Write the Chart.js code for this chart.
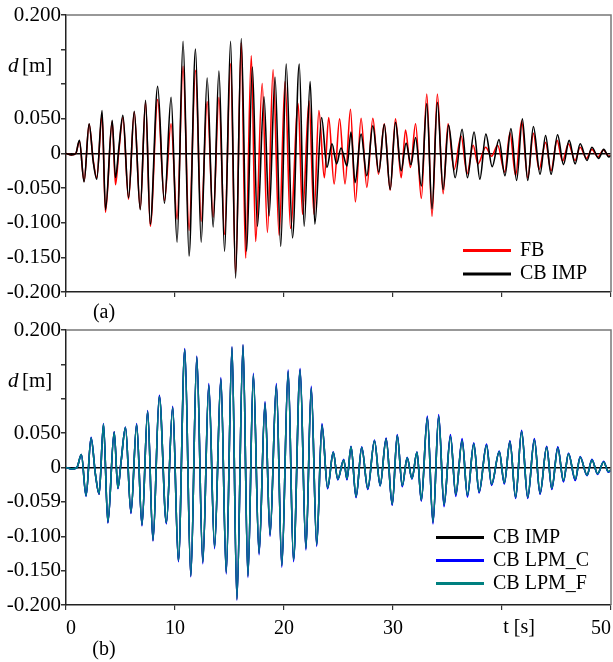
<!DOCTYPE html>
<html>
<head>
<meta charset="utf-8">
<script src="https://cdn.jsdelivr.net/npm/chart.js@4.4.0/dist/chart.umd.min.js"></script>
<style>
  body { margin: 0; background: #fff; }
  #wrap { position: relative; width: 613px; height: 662px; }
  canvas { position: absolute; left: 0; }
  #chartA { top: 0; }
  #chartB { top: 315px; }
</style>
</head>
<body>
<div id="wrap">
  <canvas id="chartA" width="613" height="325"></canvas>
  <canvas id="chartB" width="613" height="347"></canvas>
</div>
<script>
// ---- panel (a): peaks / troughs, t [s] and d [m] ----
const tFb = [
  0, 0.5, 0.9, 1.23, 1.66, 2.12, 2.5, 2.82, 3.31, 3.62,
  4.24, 4.54, 4.85, 5.22, 5.74, 6.26, 6.81, 7.3, 7.73, 8.41,
  9.03, 9.64, 10.19, 10.74, 11.29, 11.88, 12.4, 12.95, 13.5, 14.03,
  14.55, 15.1, 15.56, 16.08, 16.48, 17.0, 17.4, 18.0, 18.48, 19.0,
  19.55, 20.1, 20.6, 21.3, 21.7, 22.3, 22.75, 23.2, 23.7, 24.1,
  24.6, 25.1, 25.6, 26.1, 26.55, 27.07, 27.6, 28.15, 28.67, 29.2,
  29.74, 30.23, 30.75, 31.15, 31.6, 32.07, 32.6, 33.1, 33.58, 34.07,
  34.6, 35.05, 35.6, 36.25, 36.8, 37.35, 37.8, 38.5, 39.04, 39.6,
  40.25, 40.73, 41.25, 41.8, 42.36, 42.88, 43.4, 44.0, 44.5, 45.05,
  45.55, 46.1, 46.7, 47.17, 47.75, 48.25, 48.8, 49.3, 49.8, 50
];
const dFb = [
  0, -0.002, 0, 0.018, -0.040, 0.042, -0.010, -0.035, 0.055, -0.085,
  0.046, -0.045, 0.004, 0.052, -0.066, 0.060, -0.080, 0.074, -0.105, 0.078,
  -0.068, 0.043, -0.095, 0.126, -0.111, 0.120, -0.098, 0.075, -0.092, 0.081,
  -0.117, 0.130, -0.173, 0.160, -0.151, 0.141, -0.127, 0.101, -0.114, 0.121,
  -0.118, 0.104, -0.108, 0.072, -0.088, 0.076, -0.088, 0.062, -0.035, 0.052,
  -0.044, 0.050, -0.044, 0.064, -0.070, 0.051, -0.049, 0.051, -0.030, 0.043,
  -0.053, 0.050, -0.035, 0.034, -0.020, 0.043, -0.065, 0.086, -0.091, 0.086,
  -0.058, 0.043, -0.023, 0.025, -0.029, 0.012, -0.015, 0.009, -0.004, 0.012,
  -0.027, 0.030, -0.032, 0.047, -0.035, 0.029, -0.023, 0.016, -0.025, 0.019,
  -0.011, 0.014, -0.010, 0.009, -0.007, 0.006, -0.005, 0.005, -0.004, -0.003
];
const tImpA = [
  0, 0.5, 0.9, 1.23, 1.66, 2.12, 2.5, 2.82, 3.31, 3.62,
  4.24, 4.54, 4.85, 5.22, 5.74, 6.26, 6.81, 7.3, 7.73, 8.41,
  9.03, 9.64, 10.19, 10.74, 11.29, 11.88, 12.4, 12.95, 13.5, 14.03,
  14.55, 15.1, 15.56, 16.08, 16.57, 17.1, 17.56, 18.17, 18.63, 19.18,
  19.7, 20.2, 20.78, 21.4, 21.85, 22.4, 22.83, 23.45, 23.94, 24.4,
  24.83, 25.23, 25.78, 26.15, 26.52, 27.07, 27.6, 28.15, 28.7, 29.2,
  29.74, 30.23, 30.75, 31.2, 31.65, 32.07, 32.6, 33.1, 33.58, 34.07,
  34.6, 35.1, 35.7, 36.34, 36.83, 37.44, 37.97, 38.52, 39.1, 39.72,
  40.27, 40.82, 41.34, 41.87, 42.36, 42.88, 43.49, 44.0, 44.5, 45.1,
  45.64, 46.16, 46.71, 47.17, 47.8, 48.25, 48.86, 49.33, 49.8, 50
];
const dImpA = [
  0, -0.002, 0, 0.019, -0.041, 0.043, -0.012, -0.037, 0.062, -0.081,
  0.048, -0.035, 0.008, 0.055, -0.064, 0.061, -0.081, 0.077, -0.102, 0.097,
  -0.072, 0.081, -0.128, 0.162, -0.148, 0.151, -0.128, 0.109, -0.106, 0.119,
  -0.141, 0.162, -0.180, 0.166, -0.141, 0.125, -0.105, 0.082, -0.090, 0.110,
  -0.134, 0.129, -0.122, 0.129, -0.105, 0.104, -0.102, 0.052, -0.020, 0.014,
  -0.015, 0.008, -0.018, 0.031, -0.042, 0.028, -0.032, 0.040, -0.027, 0.042,
  -0.052, 0.045, -0.025, 0.015, -0.016, 0.023, -0.047, 0.072, -0.080, 0.074,
  -0.052, 0.041, -0.035, 0.035, -0.035, 0.031, -0.037, 0.028, -0.019, 0.020,
  -0.032, 0.036, -0.039, 0.050, -0.039, 0.039, -0.030, 0.026, -0.030, 0.027,
  -0.016, 0.019, -0.015, 0.014, -0.010, 0.009, -0.007, 0.006, -0.005, -0.003
];

// ---- panel (b) ----
const tB = [
  0, 0.5, 1.0, 1.41, 1.84, 2.3, 2.7, 3.04, 3.44, 3.84,
  4.42, 4.76, 5.05, 5.46, 5.96, 6.48, 6.97, 7.49, 7.98, 8.56,
  9.21, 9.79, 10.31, 10.9, 11.45, 12.0, 12.55, 13.1, 13.63, 14.21,
  14.7, 15.23, 15.68, 16.24, 16.69, 17.19, 17.71, 18.26, 18.72, 19.3,
  19.8, 20.38, 20.87, 21.48, 22.01, 22.5, 23.0, 23.48, 24.0, 24.52,
  24.93, 25.48, 25.78, 26.15, 26.61, 27.13, 27.69, 28.3, 28.82, 29.37,
  29.93, 30.39, 30.85, 31.3, 31.74, 32.2, 32.6, 33.15, 33.67, 34.19,
  34.68, 35.27, 35.76, 36.34, 36.83, 37.41, 37.9, 38.58, 39.04, 39.75,
  40.21, 40.73, 41.25, 41.8, 42.36, 42.97, 43.49, 44.1, 44.57, 45.12,
  45.64, 46.1, 46.72, 47.17, 47.8, 48.25, 48.77, 49.33, 49.75, 50
];
const impB = [
  0, -0.002, 0, 0.019, -0.041, 0.043, -0.010, -0.039, 0.063, -0.080,
  0.052, -0.030, 0.008, 0.058, -0.066, 0.063, -0.084, 0.082, -0.106, 0.104,
  -0.081, 0.088, -0.136, 0.172, -0.158, 0.161, -0.138, 0.120, -0.116, 0.129,
  -0.153, 0.175, -0.192, 0.178, -0.158, 0.135, -0.125, 0.094, -0.098, 0.120,
  -0.143, 0.140, -0.135, 0.142, -0.118, 0.116, -0.113, 0.062, -0.030, 0.022,
  -0.017, 0.011, -0.017, 0.030, -0.043, 0.029, -0.031, 0.039, -0.026, 0.042,
  -0.054, 0.047, -0.027, 0.014, -0.016, 0.022, -0.048, 0.073, -0.080, 0.075,
  -0.055, 0.046, -0.040, 0.040, -0.041, 0.035, -0.036, 0.033, -0.025, 0.023,
  -0.023, 0.038, -0.044, 0.053, -0.044, 0.041, -0.038, 0.030, -0.031, 0.029,
  -0.020, 0.020, -0.018, 0.015, -0.011, 0.011, -0.009, 0.008, -0.006, -0.004
];
const lpmC = [
  0, -0.002, 0, 0.019, -0.042, 0.044, -0.010, -0.039, 0.064, -0.081,
  0.052, -0.031, 0.008, 0.059, -0.067, 0.064, -0.085, 0.083, -0.107, 0.105,
  -0.082, 0.089, -0.137, 0.173, -0.159, 0.162, -0.140, 0.122, -0.118, 0.131,
  -0.155, 0.176, -0.193, 0.179, -0.160, 0.137, -0.127, 0.096, -0.100, 0.122,
  -0.145, 0.142, -0.137, 0.144, -0.120, 0.118, -0.115, 0.064, -0.031, 0.023,
  -0.018, 0.012, -0.018, 0.031, -0.044, 0.030, -0.032, 0.040, -0.027, 0.043,
  -0.055, 0.048, -0.028, 0.015, -0.017, 0.023, -0.049, 0.075, -0.082, 0.077,
  -0.057, 0.048, -0.042, 0.042, -0.043, 0.036, -0.037, 0.034, -0.026, 0.024,
  -0.024, 0.039, -0.045, 0.054, -0.045, 0.042, -0.039, 0.031, -0.032, 0.030,
  -0.021, 0.021, -0.019, 0.016, -0.012, 0.012, -0.010, 0.009, -0.007, -0.004
];
const lpmF = [
  0, -0.002, 0, 0.019, -0.041, 0.043, -0.010, -0.038, 0.063, -0.079,
  0.051, -0.030, 0.008, 0.058, -0.065, 0.062, -0.083, 0.081, -0.105, 0.103,
  -0.080, 0.087, -0.135, 0.171, -0.157, 0.160, -0.137, 0.119, -0.115, 0.128,
  -0.152, 0.174, -0.191, 0.177, -0.157, 0.134, -0.124, 0.093, -0.097, 0.119,
  -0.142, 0.139, -0.134, 0.141, -0.117, 0.115, -0.112, 0.061, -0.029, 0.022,
  -0.017, 0.011, -0.016, 0.030, -0.042, 0.029, -0.030, 0.039, -0.026, 0.041,
  -0.053, 0.046, -0.026, 0.014, -0.016, 0.022, -0.047, 0.072, -0.079, 0.074,
  -0.054, 0.045, -0.039, 0.039, -0.040, 0.034, -0.035, 0.032, -0.024, 0.023,
  -0.022, 0.037, -0.043, 0.052, -0.043, 0.040, -0.037, 0.029, -0.030, 0.028,
  -0.019, 0.020, -0.017, 0.015, -0.011, 0.011, -0.009, 0.008, -0.006, -0.003
];

// tick labels (the -0.059 on panel b is how it is printed in the original)
const yLabelsA = { 200: '0.200', 50: '0.050', 0: '0', '-50': '-0.050', '-100': '-0.100', '-150': '-0.150', '-200': '-0.200' };
const yLabelsB = { 200: '0.200', 50: '0.050', 0: '0', '-50': '-0.059', '-100': '-0.100', '-150': '-0.150', '-200': '-0.200' };
const xLabelsB = { 0: '0', 10: '10', 20: '20', 30: '30', 40: '', 50: '50' };

const FONT = '"Liberation Serif", "Times New Roman", serif';

function pts(ts, ds) {
    return ts.map((t, i) => ({ x: t, y: ds[i] }));
}

function line(label, ts, ds, color, order) {
    return {
        label: label,
        data: pts(ts, ds),
        borderColor: color,
        backgroundColor: color,
        borderWidth: 1.6,
        pointRadius: 0,
        cubicInterpolationMode: 'monotone',
        fill: false,
        order: order
    };
}

// frame, axis title, panel tag and legend
const decor = {
    id: 'decor',
    afterDraw(chart, args, opts) {
        const c = chart.ctx;
        const a = chart.chartArea;
        c.save();
        c.strokeStyle = '#777';
        c.lineWidth = 1.5;
        c.beginPath();
        c.moveTo(a.left, a.top);
        c.lineTo(a.right, a.top);
        c.lineTo(a.right, a.bottom);
        c.stroke();

        c.fillStyle = '#000';
        c.textBaseline = 'middle';
        c.textAlign = 'left';
        const yl = chart.scales.y.getPixelForValue(0.125);
        c.font = 'italic 21px ' + FONT;
        c.fillText('d', 8, yl);
        c.font = '21px ' + FONT;
        c.fillText('[m]', 22, yl);

        c.font = '20px ' + FONT;
        c.textAlign = 'center';
        c.fillText(opts.tag, 104, opts.tagY);
        if (opts.xTitle) {
            c.fillText(opts.xTitle, chart.scales.x.getPixelForValue(40) + 17, opts.xTitleY);
        }

        c.textAlign = 'left';
        chart.data.datasets.forEach((ds, i) => {
            const ly = opts.legendY + i * opts.legendGap;
            c.strokeStyle = ds.borderColor;
            c.lineWidth = 3;
            c.beginPath();
            c.moveTo(opts.legendX, ly);
            c.lineTo(opts.legendX + 48, ly);
            c.stroke();
            c.fillText(ds.label, opts.legendX + 57, ly);
        });
        c.restore();
    }
};

function makeOptions(yLabels, xLabels, padTop, xHeight, decorOpts) {
    return {
        responsive: false,
        animation: false,
        devicePixelRatio: 1,
        layout: { autoPadding: false, padding: { top: padTop, right: 2, left: 0, bottom: 0 } },
        plugins: {
            legend: { display: false },
            tooltip: { enabled: false },
            decor: decorOpts
        },
        scales: {
            x: {
                type: 'linear',
                min: 0,
                max: 50,
                border: { color: '#222', width: 1.5 },
                grid: { color: 'rgba(0,0,0,0)', tickColor: '#333', tickLength: 5, lineWidth: 1.2 },
                ticks: {
                    stepSize: 10,
                    padding: 7,
                    align: 'inner',
                    maxRotation: 0,
                    color: '#000',
                    font: { family: FONT, size: 20 },
                    callback: v => (xLabels ? (xLabels[v] ?? '') : '')
                },
                // keep the plot running right up to the frame
                afterFit: s => { s.height = xHeight; s.paddingLeft = 0; s.paddingRight = 0; }
            },
            y: {
                min: -0.2,
                max: 0.2,
                border: { color: '#222', width: 1.5 },
                grid: {
                    color: c => (c.tick && Math.abs(c.tick.value) < 1e-9 ? '#000' : 'rgba(0,0,0,0)'),
                    lineWidth: 1.5,
                    tickColor: '#333',
                    tickLength: 5
                },
                ticks: {
                    stepSize: 0.05,
                    padding: 0,
                    color: '#000',
                    font: { family: FONT, size: 21 },
                    callback: v => yLabels[Math.round(v * 1000)] ?? ''
                },
                afterFit: s => { s.width = 66; s.paddingTop = 0; s.paddingBottom = 0; }
            }
        }
    };
}

let ctxA = document.getElementById('chartA').getContext('2d');
let chartA = new Chart(ctxA, {
    type: 'line',
    data: {
        datasets: [
            line('FB', tFb, dFb, '#ff0000', 2),
            line('CB IMP', tImpA, dImpA, '#000000', 1)
        ]
    },
    options: makeOptions(yLabelsA, null, 15, 33,
        { tag: '(a)', tagY: 313, legendX: 463, legendY: 250.5, legendGap: 23.5 }),
    plugins: [decor]
});

let ctxB = document.getElementById('chartB').getContext('2d');
let chartB = new Chart(ctxB, {
    type: 'line',
    data: {
        datasets: [
            line('CB IMP', tB, impB, '#000000', 3),
            line('CB LPM_C', tB, lpmC, '#0000ff', 2),
            line('CB LPM_F', tB, lpmF, '#008080', 1)
        ]
    },
    options: makeOptions(yLabelsB, xLabelsB, 15, 57,
        { tag: '(b)', tagY: 335, xTitle: 't [s]', xTitleY: 313, legendX: 436, legendY: 222.5, legendGap: 23 }),
    plugins: [decor]
});
</script>
</body>
</html>
